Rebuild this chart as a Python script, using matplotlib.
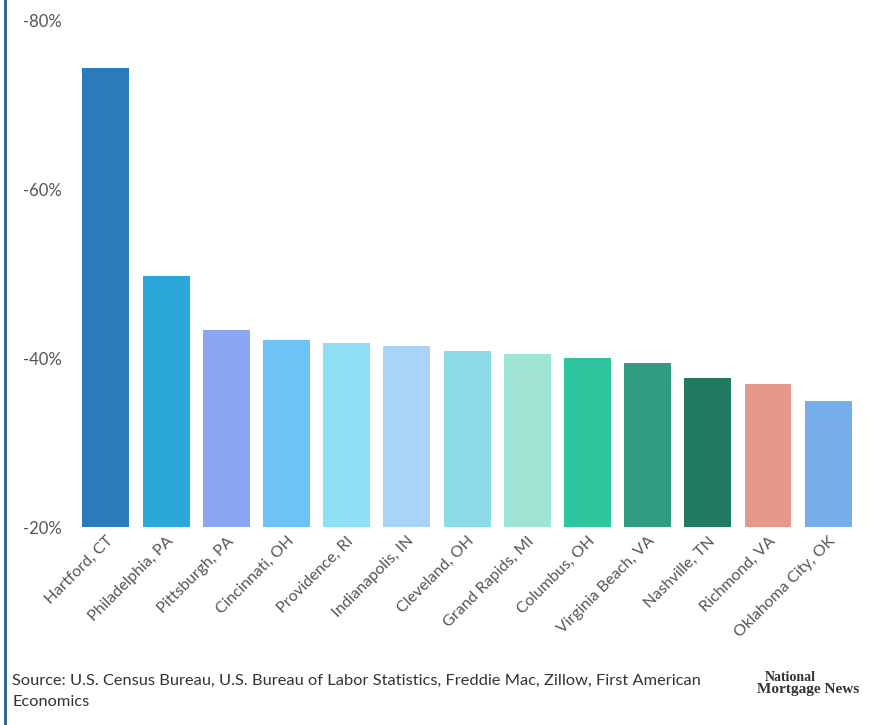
import numpy as np
import matplotlib
matplotlib.use("Agg")
import matplotlib.pyplot as plt
from matplotlib.lines import Line2D

# values (percent change)
cities = ["Hartford, CT", "Philadelphia, PA", "Pittsburgh, PA", "Cincinnati, OH",
          "Providence, RI", "Indianapolis, IN", "Cleveland, OH", "Grand Rapids, MI",
          "Columbus, OH", "Virginia Beach, VA", "Nashville, TN", "Richmond, VA",
          "Oklahoma City, OK"]
values = [-74.3, -49.7, -43.3, -42.2, -41.8, -41.4, -40.9, -40.5, -40.0,
          -39.4, -37.6, -36.9, -34.9]
colors = ["#2b7bba", "#2aa8da", "#8ba7f2", "#6dc4f4", "#8edff3", "#aad3f9",
          "#8ddbe6", "#a0e5d4", "#2ec59f", "#2f9d83", "#237a62", "#e6998a",
          "#75aee9"]
yticks = [-80, -60, -40, -20]
base = -20

plt.rcParams['font.family'] = ['Lato', 'DejaVu Sans']

fig = plt.figure(figsize=(8.73, 7.25), dpi=100)
ax = fig.add_axes([0.080, 0.273, 0.910, 0.699])

x = np.arange(len(cities))
heights = [v - base for v in values]
ax.bar(x, heights, bottom=base, width=0.78, color=colors)

ax.set_xlim(-0.6, len(cities) - 0.4)
ax.set_ylim(base, -80)
ax.set_yticks(yticks)
ax.set_yticklabels(["%d%%" % t for t in yticks], fontsize=12, color="#555555")
ax.set_xticks(x)
ax.set_xticklabels(cities, rotation=45, ha="right", rotation_mode="anchor",
                   fontsize=11.5, color="#555555")
ax.tick_params(axis="y", length=0, pad=6)
ax.tick_params(axis="x", length=0, pad=5)
for s in ax.spines.values():
    s.set_visible(False)

# left border line
fig.add_artist(Line2D([0.006, 0.006], [0, 1], transform=fig.transFigure,
                      color="#1f5f8f", lw=2))

fig.text(0.014, 0.061, "Source: U.S. Census Bureau, U.S. Bureau of Labor Statistics, "
         "Freddie Mac, Zillow, First American", fontsize=11.8, color="#333333",
         va="center")
fig.text(0.014, 0.032, "Economics", fontsize=11.8, color="#333333", va="center")
fig.text(0.905, 0.066, "National", fontsize=10, color="#333333", va="center",
         ha="center", family="Liberation Serif", weight="bold")
fig.text(0.867, 0.049, "Mortgage News", fontsize=11, color="#333333", va="center",
         ha="left", family="Liberation Serif", weight="bold")

fig.savefig("out.png", dpi=100, facecolor="white")
